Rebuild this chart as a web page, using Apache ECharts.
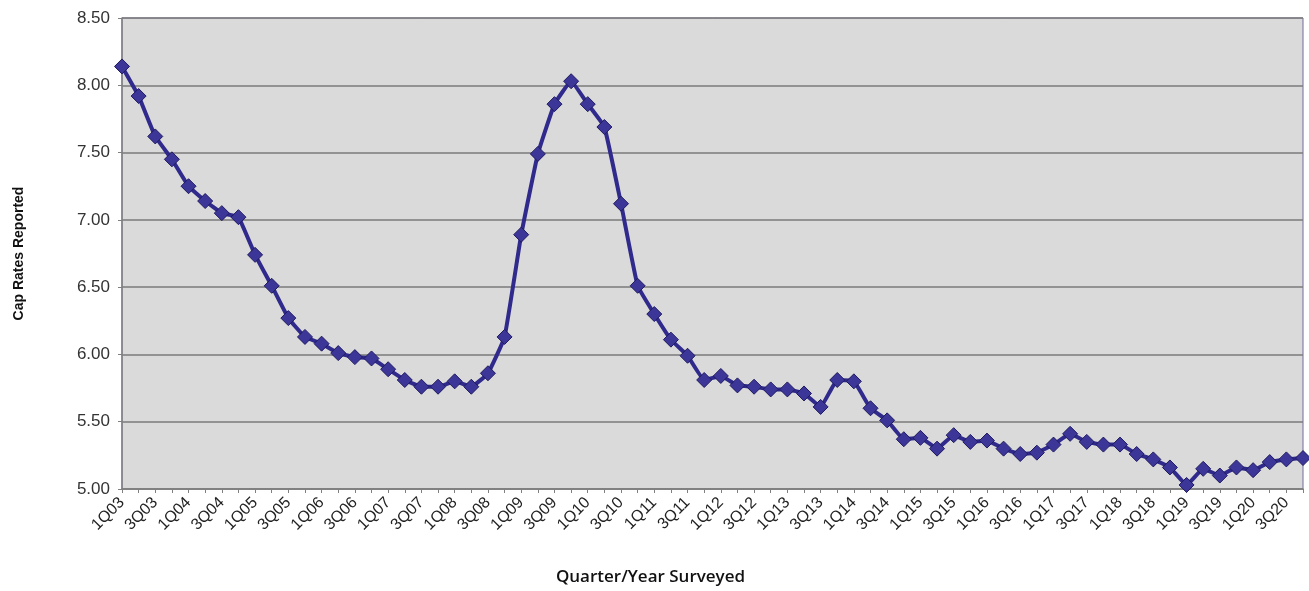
<!DOCTYPE html>
<html>
<head>
<meta charset="utf-8">
<script src="https://cdn.jsdelivr.net/npm/echarts@6/dist/echarts.min.js"></script>
<style>
  html, body { margin: 0; padding: 0; background: #ffffff; }
  #chart { width: 1309px; height: 591px; }
</style>
</head>
<body>
<div id="chart"></div>
<script>
// Quarterly survey periods, 1Q03 through 4Q20
const years = ['03','04','05','06','07','08','09','10','11','12','13','14','15','16','17','18','19','20'];
const quarters = [];
years.forEach(y => { for (let q = 1; q <= 4; q++) quarters.push(q + 'Q' + y); });

// Average cap rate reported for each quarter (%)
const capRates = [
  8.14, 7.92, 7.62, 7.45, 7.25, 7.14, 7.05, 7.02,
  6.74, 6.51, 6.27, 6.13, 6.08, 6.01, 5.98, 5.97,
  5.89, 5.81, 5.76, 5.76, 5.80, 5.76, 5.86, 6.13,
  6.89, 7.49, 7.86, 8.03, 7.86, 7.69, 7.12, 6.51,
  6.30, 6.11, 5.99, 5.81, 5.84, 5.77, 5.76, 5.74,
  5.74, 5.71, 5.61, 5.81, 5.80, 5.60, 5.51, 5.37,
  5.38, 5.30, 5.40, 5.35, 5.36, 5.30, 5.26, 5.27,
  5.33, 5.41, 5.35, 5.33, 5.33, 5.26, 5.22, 5.16,
  5.03, 5.15, 5.10, 5.16, 5.14, 5.20, 5.22, 5.23
];

// Value axis range and step
const yMin = 5.0, yMax = 8.5, yStep = 0.5;

const chart = echarts.init(document.getElementById('chart'), null, { renderer: 'canvas' });
chart.setOption({
  animation: false,
  backgroundColor: '#ffffff',
  grid: {
    left: 122, right: 6, top: 18, bottom: 98,
    show: true,
    backgroundColor: '#dadada',
    borderColor: '#6f6c9c',
    borderWidth: 1
  },
  xAxis: {
    type: 'category',
    data: quarters,
    boundaryGap: false,
    name: 'Quarter/Year Surveyed',
    nameLocation: 'middle',
    nameGap: 80,
    nameTextStyle: {
      fontFamily: 'Open Sans', fontWeight: 600, fontSize: 17, color: '#111',
      padding: [0, 124, 0, 0]
    },
    axisLine: { lineStyle: { color: '#808080', width: 1.5 } },
    axisTick: { show: true, interval: 0, length: 4, lineStyle: { color: '#808080' } },
    axisLabel: {
      interval: 1,
      rotate: 45,
      fontFamily: 'Liberation Sans',
      fontSize: 16,
      color: '#222',
      margin: 11
    },
    splitLine: { show: false }
  },
  yAxis: {
    type: 'value',
    min: yMin, max: yMax, interval: yStep,
    name: 'Cap Rates Reported',
    nameLocation: 'middle',
    nameGap: 96,
    nameTextStyle: { fontFamily: 'Liberation Sans', fontWeight: 'bold', fontSize: 14, color: '#111' },
    axisLine: { show: true, lineStyle: { color: '#808080', width: 1.5 } },
    axisTick: { show: true, length: 4, lineStyle: { color: '#808080' } },
    axisLabel: {
      formatter: v => v.toFixed(2),
      fontFamily: 'Liberation Sans',
      fontSize: 17,
      color: '#333',
      margin: 12
    },
    splitLine: { show: true, lineStyle: { color: '#7a7a7a', width: 1.5 } }
  },
  series: [{
    type: 'line',
    data: capRates,
    symbol: 'diamond',
    symbolSize: 15,
    showAllSymbol: true,
    smooth: 0.1,
    lineStyle: { color: '#2f2a8c', width: 4 },
    itemStyle: { color: '#3d3699', borderColor: '#1f1b60', borderWidth: 1 },
    z: 3
  }]
});
</script>
</body>
</html>
